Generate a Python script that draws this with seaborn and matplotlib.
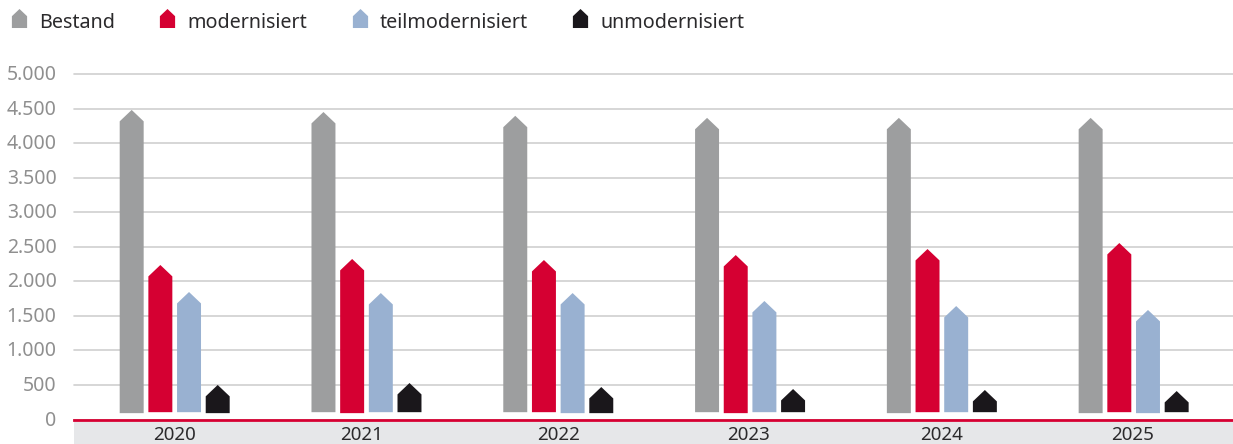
import numpy as np
import pandas as pd
import matplotlib
matplotlib.use("Agg")
import matplotlib.pyplot as plt
from matplotlib.patches import Polygon, Rectangle
from matplotlib.path import Path
from matplotlib.lines import Line2D
from matplotlib.transforms import ScaledTranslation
import seaborn as sns

years = ["2020", "2021", "2022", "2023", "2024", "2025"]
bestand = [4480, 4450, 4395, 4365, 4365, 4365]
modernisiert = [2236, 2323, 2308, 2380, 2467, 2554]
teilmodernisiert = [1845, 1830, 1830, 1715, 1642, 1585]
unmodernisiert = [500, 528, 470, 441, 427, 412]
# the bars do not start at zero: they float just above the axis
base_bestand = [92, 106, 106, 106, 92, 92]
base_modernisiert = [106, 92, 106, 92, 106, 106]
base_teilmodernisiert = [106, 106, 92, 106, 106, 92]
base_unmodernisiert = [92, 106, 92, 106, 106, 106]
series = ["Bestand", "modernisiert", "teilmodernisiert", "unmodernisiert"]
colors = ["#9d9e9f", "#d50032", "#99b1d1", "#1a171b"]
yticks = [0, 500, 1000, 1500, 2000, 2500, 3000, 3500, 4000, 4500, 5000]
ytick_labels = ["0", "500", "1.000", "1.500", "2.000", "2.500", "3.000", "3.500", "4.000", "4.500", "5.000"]

ROOF = 165       # height of the house roof in value units
FONT = "Noto Sans"

df = pd.DataFrame({
    "Jahr": np.repeat(years, 4),
    "Serie": series * 6,
    "Wert": np.array([bestand, modernisiert, teilmodernisiert, unmodernisiert]).T.ravel(),
})
bases = {s: b for s, b in zip(series, [base_bestand, base_modernisiert,
                                       base_teilmodernisiert, base_unmodernisiert])}

sns.set_theme(style="white")
plt.rcParams["font.family"] = [FONT, "DejaVu Sans"]
W, H = 1233, 444
fig = plt.figure(figsize=(W / 100, H / 100), dpi=100)
ax = fig.add_axes([74 / W, (H - 419.5) / H, (W - 74) / W, 345.5 / H])

sns.barplot(data=df, x="Jahr", y="Wert", hue="Serie", hue_order=series, palette=colors,
            saturation=1, width=0.598, gap=0.164, legend=False, ax=ax, zorder=3)

# turn each seaborn bar into a house shape (seaborn draws them series by series)
flat_bases = sum((bases[s] for s in series), [])
for bar, base in zip(list(ax.patches), flat_bases):
    x, w, top = bar.get_x(), bar.get_width(), bar.get_height()
    col = bar.get_facecolor()
    bar.remove()
    ax.add_patch(Polygon([(x, base), (x + w, base), (x + w, top - ROOF), (x + w / 2, top),
                          (x, top - ROOF)], closed=True, facecolor=col, edgecolor="none", zorder=3))

ax.set_xlim(-0.525, 5.518)
ax.set_ylim(0, 5000)
ax.set_yticks(yticks, ytick_labels)
# the reference's year labels sit slightly off the group centres
ax.set_xticks([0, 0.975, 2.0, 2.99, 4.0, 4.995], years)
ax.set_xlabel("")
ax.set_ylabel("")
ax.grid(axis="y", color="#d0d0d0", lw=1.2, clip_on=False, zorder=0)
ax.set_axisbelow(True)
for s in ["top", "left", "right"]:
    ax.spines[s].set_visible(False)
ax.spines["bottom"].set_color("#d50032")
ax.spines["bottom"].set_linewidth(2)
ax.spines["bottom"].set_zorder(5)
ax.tick_params(axis="y", length=0, pad=12.5, labelsize=14, labelcolor="#8f8f8f")
ax.tick_params(axis="x", length=0, pad=4.6, labelsize=13.5, labelcolor="#2b2a2c")
for lbl in ax.get_yticklabels():
    lbl.set_transform(lbl.get_transform() + ScaledTranslation(0, 1.5 / 100, fig.dpi_scale_trans))

# grey band below the axis
fig.add_artist(Rectangle((74 / W, 0), (W - 74) / W, (H - 421.5) / H, transform=fig.transFigure,
                         facecolor="#e6e7e9", edgecolor="none", zorder=-1))

# legend with house markers, placed as in the reference
house = Path([(-1, -1.25), (1, -1.25), (1, 0.3), (0, 1.25), (-1, 0.3), (-1, -1.25)], closed=True)
for name, col, mx, tx in zip(series, colors, [18.5, 166.5, 359.5, 579.5], [39, 187, 380, 600]):
    fig.add_artist(Line2D([mx / W], [(H - 18.5) / H], transform=fig.transFigure, linestyle="none",
                          marker=house, markersize=13.7, color=col, markeredgewidth=0))
    fig.text(tx / W, (H - 23) / H, name, fontsize=14.2, color="#2b2a2c", va="center", ha="left")

fig.savefig("out.png", dpi=100)
